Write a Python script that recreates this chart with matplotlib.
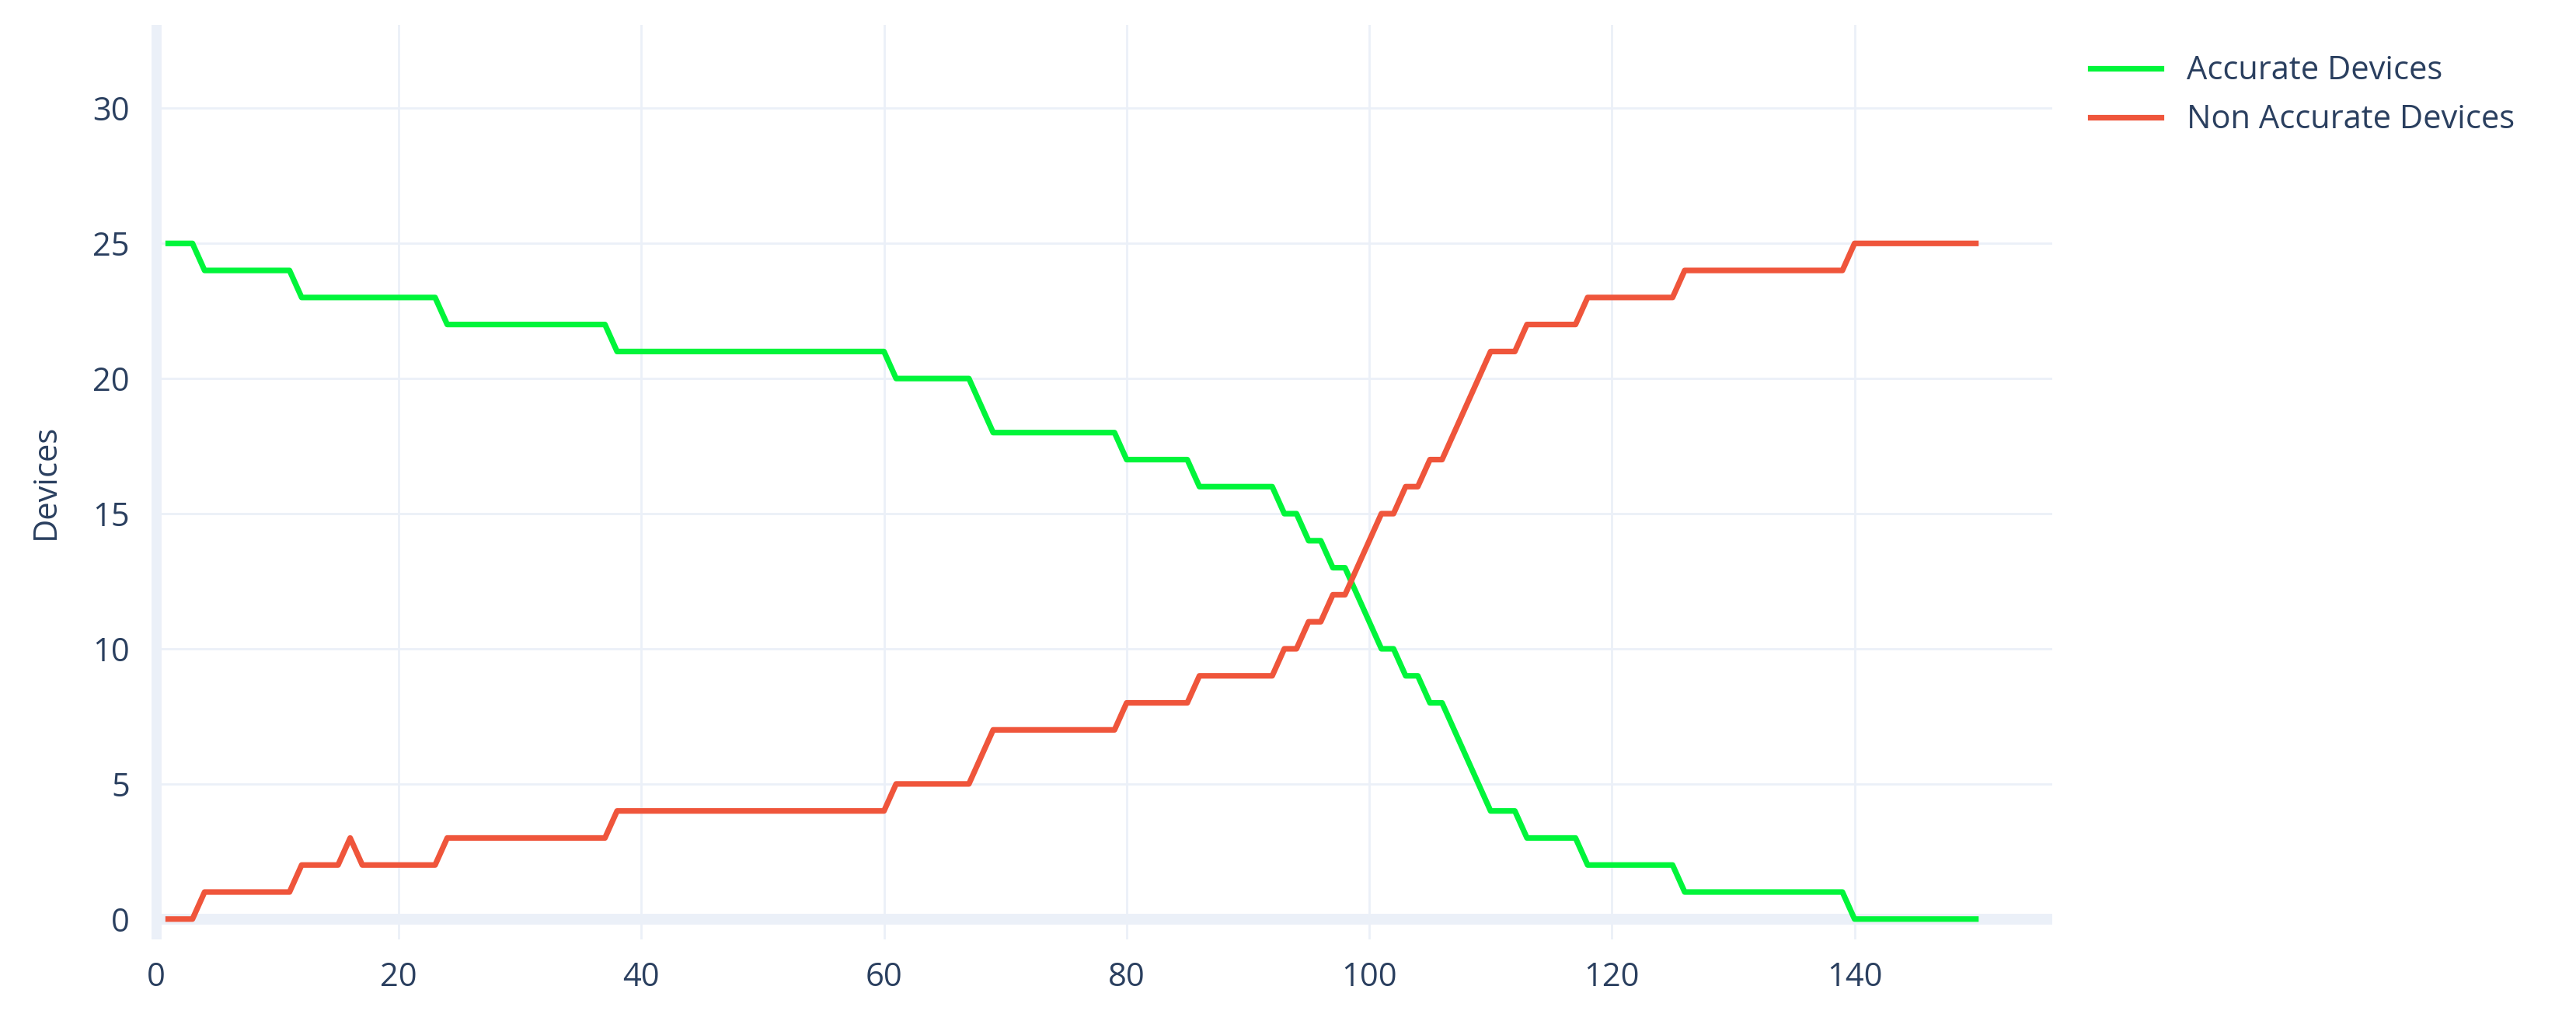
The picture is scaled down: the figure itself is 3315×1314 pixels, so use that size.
import matplotlib.pyplot as plt
from matplotlib.lines import Line2D

plt.rcParams['font.family'] = ['Open Sans', 'DejaVu Sans']

steps = list(range(1, 151))

# accurate devices per step
accurate = ([25] * 3 + [24] * 8 + [23] * 12 + [22] * 14 + [21] * 23 + [20] * 7 + [19] +
            [18] * 11 + [17] * 6 + [16] * 7 + [15, 15, 14, 14, 13, 13, 12, 11, 10, 10, 9, 9, 8, 8,
            7, 6, 5, 4, 4, 4] + [3] * 5 + [2] * 8 + [1] * 14 + [0] * 11)
non_accurate = ([0] * 3 + [1] * 8 + [2] * 4 + [3] + [2] * 7 + [3] * 14 + [4] * 23 + [5] * 7 + [6] +
                [7] * 11 + [8] * 6 + [9] * 7 + [10, 10, 11, 11, 12, 12, 13, 14, 15, 15, 16, 16, 17, 17,
                18, 19, 20, 21, 21, 21] + [22] * 5 + [23] * 8 + [24] * 14 + [25] * 11)

green = '#00F53A'
red = '#EF553B'
text_col = '#2A3F5F'
grid_col = '#EBF0F8'

fig = plt.figure(figsize=(16.575, 6.57), dpi=200)
ax = fig.add_axes([0.0587, 0.08, 0.738, 0.896])

ax.plot(steps, accurate, color=green, lw=2.6, zorder=3)
ax.plot(steps, non_accurate, color=red, lw=2.6, zorder=3)

ax.set_xlim(-0.4, 156.3)
ax.set_ylim(-0.75, 33.1)
ax.set_xticks(range(0, 141, 20))
ax.set_yticks(range(0, 31, 5))
ax.grid(True, color=grid_col, lw=1, zorder=0)
ax.axhline(0, color=grid_col, lw=5, zorder=1)
ax.axvline(0, color=grid_col, lw=5, zorder=1)
for s in ax.spines.values():
    s.set_visible(False)
ax.tick_params(length=0, labelsize=15, labelcolor=text_col, pad=10)
ax.set_ylabel('Devices', fontsize=15, color=text_col, labelpad=14)

handles = [Line2D([], [], color=green, lw=2.6), Line2D([], [], color=red, lw=2.6)]
fig.legend(handles, ['Accurate Devices', 'Non Accurate Devices'], loc='upper left',
           bbox_to_anchor=(0.8, 0.975), frameon=False, fontsize=15, labelcolor=text_col,
           handlelength=2.2, labelspacing=0.5)

fig.savefig('out.png', dpi=200)
